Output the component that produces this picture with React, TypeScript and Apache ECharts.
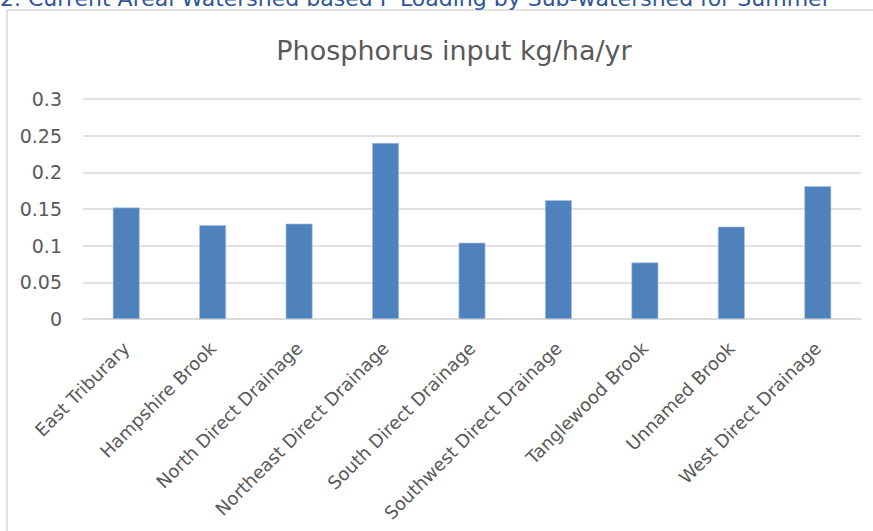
import React, { useEffect, useRef } from "react";
import * as echarts from "echarts";

const chartTitle = "Phosphorus input kg/ha/yr";
const headingText = "2. Current Areal Watershed based P Loading by Sub-watershed for Summer";
const categories = [
  "East Triburary",
  "Hampshire Brook",
  "North Direct Drainage",
  "Northeast Direct Drainage",
  "South Direct Drainage",
  "Southwest Direct Drainage",
  "Tanglewood Brook",
  "Unnamed Brook",
  "West Direct Drainage",
];
const values = [0.152, 0.128, 0.13, 0.24, 0.104, 0.162, 0.077, 0.126, 0.181];
const yTicks = { min: 0, max: 0.3, interval: 0.05 };

export default function App() {
  const ref = useRef<HTMLDivElement>(null);
  useEffect(() => {
    if (!ref.current) return;
    const chart = echarts.init(ref.current, null, { renderer: "svg" });
    const font = "'DejaVu Sans', 'Open Sans', sans-serif";
    chart.setOption({
      animation: false,
      backgroundColor: "#ffffff",
      title: {
        text: chartTitle,
        left: 449,
        top: 32,
        textAlign: "center",
        textStyle: { fontFamily: font, fontSize: 27, fontWeight: "normal", color: "#595959" },
      },
      graphic: [
        {
          type: "rect",
          shape: { x: 7, y: 10, width: 880, height: 540 },
          style: { fill: "none", stroke: "#d9d9d9", lineWidth: 1.5 },
          z: 0,
        },
        {
          type: "text",
          x: 0,
          y: 9,
          style: {
            text: headingText,
            fontFamily: font,
            fontSize: 22,
            fill: "#2f5597",
            verticalAlign: "bottom",
          },
        },
      ],
      grid: { left: 83, right: 12, top: 99, bottom: 212, containLabel: false },
      xAxis: {
        type: "category",
        data: categories,
        axisLine: { lineStyle: { color: "#d9d9d9", width: 1.5 } },
        axisTick: { show: false },
        axisLabel: {
          rotate: 45,
          interval: 0,
          fontFamily: font,
          fontSize: 18,
          color: "#595959",
          margin: 26,
        },
      },
      yAxis: {
        type: "value",
        min: yTicks.min,
        max: yTicks.max,
        interval: yTicks.interval,
        axisLine: { show: false },
        axisTick: { show: false },
        splitLine: { lineStyle: { color: "#d9d9d9", width: 1.5 } },
        axisLabel: {
          fontFamily: font,
          fontSize: 19,
          color: "#595959",
          margin: 21,
          formatter: (v: number) => String(Math.round(v * 100) / 100),
        },
      },
      series: [
        {
          type: "bar",
          data: values,
          barWidth: "31%",
          itemStyle: { color: "#4f81bd", borderColor: "#a9c2e3", borderWidth: 0.6 },
        },
      ],
    });
    return () => chart.dispose();
  }, []);
  return (
    <div
      ref={ref}
      style={{ position: "fixed", left: 0, top: 0, width: 873, height: 531 }}
    />
  );
}
